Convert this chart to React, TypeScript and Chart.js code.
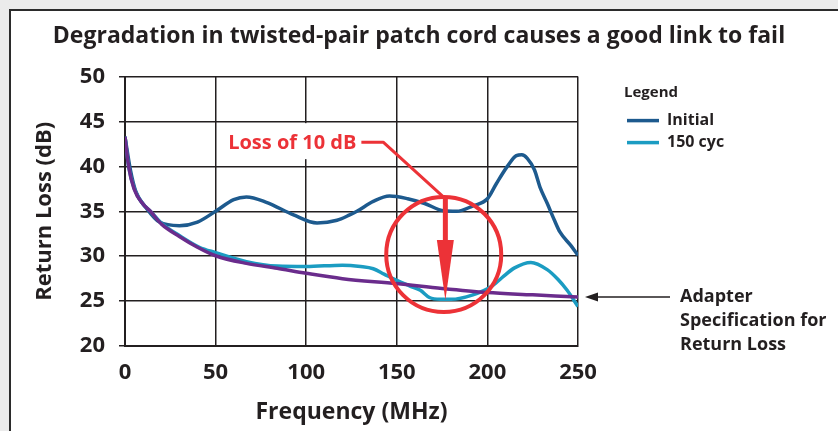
import React, { useEffect, useRef } from "react";
import { Chart, registerables } from "chart.js";

Chart.register(...registerables);

const TITLE = "Degradation in twisted-pair patch cord causes a good link to fail";
const X_TITLE = "Frequency (MHz)";
const Y_TITLE = "Return Loss (dB)";
const LEGEND_TITLE = "Legend";
const LOSS_LABEL = "Loss of 10 dB";
const SPEC_LABEL = ["Adapter", "Specification for", "Return Loss"];

const X_MIN = 0;
const X_MAX = 250;
const X_STEP = 50;
const Y_MIN = 20;
const Y_MAX = 50;
const Y_STEP = 5;

const initialFreq = [0, 3, 6, 12, 19, 30, 40, 50, 60, 67, 78, 93, 106, 117, 124, 128, 137, 146, 156, 165, 176, 183, 192, 200, 205, 211, 216, 219, 222, 226, 229, 233, 237, 240, 246, 250];
const initialDb = [43.3, 39.6, 37.2, 35.3, 33.8, 33.4, 33.8, 35.0, 36.3, 36.6, 36.0, 34.6, 33.7, 34.0, 34.6, 35.0, 36.1, 36.7, 36.4, 35.9, 35.05, 35.0, 35.6, 36.4, 38.1, 40.0, 41.2, 41.3, 40.9, 39.6, 37.7, 35.9, 34.0, 32.7, 31.2, 30.1];

const cycFreq = [0, 2, 5, 10, 14, 20, 30, 41, 50, 67, 84, 100, 120, 130, 137, 143, 150, 157, 163, 168, 174, 180, 192, 202, 208, 215, 224, 233, 239, 244, 250];
const cycDb = [43.3, 40.0, 37.6, 35.8, 35.0, 33.7, 32.3, 31.0, 30.4, 29.4, 28.9, 28.85, 29.0, 28.85, 28.6, 28.0, 27.3, 26.7, 26.2, 25.4, 25.2, 25.2, 25.7, 26.6, 27.6, 28.7, 29.3, 28.5, 27.4, 26.2, 24.4];

const specFreq = [0, 2, 5, 10, 14, 20, 30, 40, 50, 67, 84, 100, 120, 150, 175, 200, 225, 250];
const specDb = [43.3, 40.0, 37.5, 35.8, 35.0, 33.6, 32.2, 31.0, 30.05, 29.2, 28.65, 28.1, 27.5, 26.95, 26.4, 25.95, 25.7, 25.45];

const SERIES_LABELS = ["Initial", "150 cyc", "Adapter spec"];
const SERIES_COLORS = ["#1d5a8e", "#1b9cc2", "#6a2c8c"];

// annotation anchors (data units)
const LOSS_TEXT_AT = { x: 92.3, y: 42.7 };
const LEADER_KNEE = { x: 142.5, y: 42.7 };
const LEADER_END = { x: 175.7, y: 36.6 };
const CIRCLE_CENTER = { x: 175.9, y: 30.2 };
const ARROW_X = 176.8;
const ARROW_HEAD_BASE = 31.8;
const ARROW_TIP = 25.12;
const SPEC_ARROW_Y = 25.45;

const FONT = '"Open Sans", "DejaVu Sans", sans-serif';
const TEXT = "#231f20";
const RED = "#ec3237";

function toPoints(xs: number[], ys: number[]) {
  return xs.map((x, i) => ({ x, y: ys[i] }));
}

const framePlugin = {
  id: "frame",
  afterLayout(chart: any) {
    const tb = chart.titleBlock;
    if (tb) {
      tb.left = 0;
      tb.right = chart.width;
      tb.width = chart.width;
    }
  },
  beforeDraw(chart: any) {
    const { ctx, width, height } = chart;
    ctx.save();
    ctx.fillStyle = "#ebebeb";
    ctx.fillRect(0, 0, width, height);
    ctx.fillStyle = "#ffffff";
    ctx.fillRect(10, 10, width - 10, height - 10);
    ctx.strokeStyle = "#2b2b2b";
    ctx.lineWidth = 2;
    ctx.beginPath();
    ctx.moveTo(10, height + 2);
    ctx.lineTo(10, 10);
    ctx.lineTo(width + 2, 10);
    ctx.stroke();
    ctx.restore();
  },
};

const annotationPlugin = {
  id: "annotations",
  afterDatasetsDraw(chart: any) {
    const { ctx, chartArea: ca } = chart;
    const xs = chart.scales.x;
    const ys = chart.scales.y;
    ctx.save();

    // Loss label with white background
    const tx = xs.getPixelForValue(LOSS_TEXT_AT.x);
    const ty = ys.getPixelForValue(LOSS_TEXT_AT.y);
    ctx.font = `bold 20px ${FONT}`;
    const w = ctx.measureText(LOSS_LABEL).width;
    ctx.fillStyle = "#ffffff";
    ctx.fillRect(tx - w / 2 - 4, ty - 19, w + 8, 36);
    ctx.fillStyle = RED;
    ctx.textAlign = "center";
    ctx.textBaseline = "middle";
    ctx.fillText(LOSS_LABEL, tx, ty + 1);

    // leader line
    ctx.strokeStyle = RED;
    ctx.lineWidth = 3;
    ctx.lineJoin = "round";
    ctx.beginPath();
    ctx.moveTo(tx + w / 2 + 5, ty);
    ctx.lineTo(xs.getPixelForValue(LEADER_KNEE.x), ys.getPixelForValue(LEADER_KNEE.y));
    ctx.lineTo(xs.getPixelForValue(LEADER_END.x), ys.getPixelForValue(LEADER_END.y));
    ctx.stroke();

    // circle
    const cx = xs.getPixelForValue(CIRCLE_CENTER.x);
    const cy = ys.getPixelForValue(CIRCLE_CENTER.y);
    ctx.lineWidth = 4;
    ctx.beginPath();
    ctx.arc(cx, cy, 57.5, 0, Math.PI * 2);
    ctx.stroke();

    // down arrow
    const ax = xs.getPixelForValue(ARROW_X);
    const baseY = ys.getPixelForValue(ARROW_HEAD_BASE);
    const tipY = ys.getPixelForValue(ARROW_TIP);
    ctx.lineWidth = 5;
    ctx.lineCap = "butt";
    ctx.beginPath();
    ctx.moveTo(ax, ys.getPixelForValue(LEADER_END.y));
    ctx.lineTo(ax, baseY + 1);
    ctx.stroke();
    ctx.fillStyle = RED;
    ctx.beginPath();
    ctx.moveTo(ax - 8.5, baseY);
    ctx.lineTo(ax + 8.5, baseY);
    ctx.lineTo(ax, tipY);
    ctx.closePath();
    ctx.fill();

    // adapter spec arrow + label
    const sy = ys.getPixelForValue(SPEC_ARROW_Y);
    const tip = ca.right + 7;
    ctx.strokeStyle = TEXT;
    ctx.fillStyle = TEXT;
    ctx.lineWidth = 1.5;
    ctx.beginPath();
    ctx.moveTo(ca.right + 92, sy);
    ctx.lineTo(tip + 10, sy);
    ctx.stroke();
    ctx.beginPath();
    ctx.moveTo(tip, sy);
    ctx.lineTo(tip + 13, sy - 4.5);
    ctx.lineTo(tip + 13, sy + 4.5);
    ctx.closePath();
    ctx.fill();
    ctx.font = `bold 18px ${FONT}`;
    ctx.textAlign = "left";
    ctx.textBaseline = "middle";
    SPEC_LABEL.forEach((line, i) => {
      ctx.fillText(line, ca.right + 102, sy + i * 24);
    });
    ctx.restore();
  },
  afterDraw(chart: any) {
    const { ctx, chartArea: ca } = chart;
    ctx.save();
    const lx = ca.right + 46;
    ctx.fillStyle = TEXT;
    ctx.font = `bold 15px ${FONT}`;
    ctx.textAlign = "left";
    ctx.textBaseline = "middle";
    ctx.fillText(LEGEND_TITLE, lx, ca.top + 16);
    ctx.font = `bold 16px ${FONT}`;
    chart.data.datasets.slice(0, 2).forEach((ds: any, i: number) => {
      const y = ca.top + 44 + i * 22;
      ctx.strokeStyle = ds.borderColor;
      ctx.lineWidth = 3.5;
      ctx.beginPath();
      ctx.moveTo(lx + 3, y);
      ctx.lineTo(lx + 35, y);
      ctx.stroke();
      ctx.fillStyle = TEXT;
      ctx.fillText(ds.label, lx + 43, y);
    });
    ctx.restore();
  },
};

export default function App() {
  const ref = useRef<HTMLCanvasElement | null>(null);

  useEffect(() => {
    document.body.style.margin = "0";
    const canvas = ref.current;
    if (!canvas) return;
    const mk = (i: number, xsArr: number[], ysArr: number[], order: number) => ({
      label: SERIES_LABELS[i],
      data: toPoints(xsArr, ysArr),
      borderColor: SERIES_COLORS[i],
      backgroundColor: SERIES_COLORS[i],
      borderWidth: 3.5,
      pointRadius: 0,
      cubicInterpolationMode: "monotone" as const,
      fill: false,
      order,
    });
    const chart = new Chart(canvas, {
      type: "line",
      data: {
        datasets: [
          mk(0, initialFreq, initialDb, 3),
          mk(1, cycFreq, cycDb, 2),
          mk(2, specFreq, specDb, 1),
        ],
      },
      options: {
        animation: false,
        responsive: false,
        maintainAspectRatio: false,
        layout: { padding: { left: 0, right: 260, top: 0, bottom: 0 } },
        plugins: {
          legend: { display: false },
          tooltip: { enabled: false },
          title: {
            display: true,
            text: TITLE,
            color: TEXT,
            font: { family: FONT, size: 23, weight: "bold", lineHeight: 1.2 },
            padding: { top: 23, bottom: 26 },
          },
        },
        scales: {
          x: {
            type: "linear",
            min: X_MIN,
            max: X_MAX,
            afterFit: (s: any) => {
              s.height = 85;
            },
            ticks: {
              stepSize: X_STEP,
              color: TEXT,
              padding: 14,
              maxRotation: 0,
              font: { family: FONT, size: 22, weight: "bold", lineHeight: 1.2 },
            },
            grid: { color: TEXT, lineWidth: 1.5, drawTicks: false },
            border: { color: TEXT, width: 2 },
            title: {
              display: true,
              text: X_TITLE,
              color: TEXT,
              font: { family: FONT, size: 23, weight: "bold", lineHeight: 1.2 },
              padding: { top: 0, bottom: 5 },
            },
          },
          y: {
            type: "linear",
            min: Y_MIN,
            max: Y_MAX,
            afterFit: (s: any) => {
              s.width = 125;
            },
            ticks: {
              stepSize: Y_STEP,
              color: TEXT,
              padding: 14,
              font: { family: FONT, size: 22, weight: "bold", lineHeight: 1.2 },
            },
            grid: { color: TEXT, lineWidth: 1.5, drawTicks: true, tickLength: 6 },
            border: { color: TEXT, width: 2 },
            title: {
              display: true,
              text: Y_TITLE,
              color: TEXT,
              font: { family: FONT, size: 22, weight: "bold", lineHeight: 1.2 },
              padding: { top: 32, bottom: 0 },
            },
          },
        },
      },
      plugins: [framePlugin, annotationPlugin],
    });
    return () => chart.destroy();
  }, []);

  return (
    <div style={{ position: "fixed", left: 0, top: 0, width: 838, height: 431 }}>
      <canvas ref={ref} width={838} height={431} style={{ display: "block" }} />
    </div>
  );
}
